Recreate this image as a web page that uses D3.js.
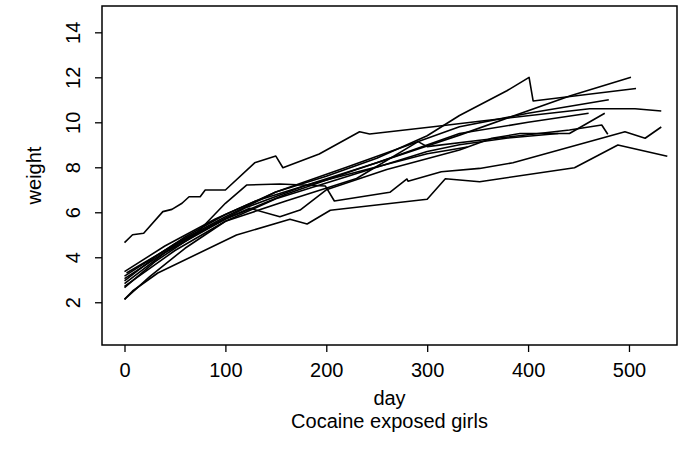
<!DOCTYPE html>
<html>
<head>
<meta charset="utf-8">
<script src="https://cdn.jsdelivr.net/npm/d3@7"></script>
<style>
  body { margin: 0; background: #fff; }
  svg { display: block; font-family: "Liberation Sans", Arial, sans-serif; }
</style>
</head>
<body>
<div id="chart"></div>
<script>
// tick labels
const xTicks = [0, 100, 200, 300, 400, 500];
const yTicks = [2, 4, 6, 8, 10, 12, 14];

// one array of [day, weight] per girl
const girl01 = [[0,4.65],[8,5.0],[19,5.07],[38,6.03],[47,6.13],[57,6.4],[64,6.69],[75,6.69],[80,6.99],[100,6.99],[129,8.2],[150,8.5],[157,7.98],[193,8.59],[233,9.58],[243,9.48],[306,9.8],[352,10.05],[461,10.6],[506,10.6],[532,10.5]];
const girl02 = [[0,2.95],[30,4.0],[60,4.9],[100,5.9],[150,6.9],[200,7.6],[250,8.4],[300,9.4],[332,10.3],[379,11.4],[401,12.0],[405,10.95],[507,11.5]];
const girl03 = [[2,3.3],[40,4.3],[100,5.7],[160,6.8],[230,7.9],[332,9.43],[442,11.18],[502,12.0]];
const girl04 = [[0,3.16],[50,4.6],[100,5.8],[150,6.9],[220,8.0],[332,9.8],[400,10.4],[480,11.0]];
const girl05 = [[0,3.05],[60,4.8],[120,6.2],[180,7.2],[250,8.2],[332,9.5],[400,10.0],[460,10.4]];
const girl06 = [[0,2.83],[40,4.2],[100,5.7],[124,6.18],[154,5.8],[174,6.1],[200,7.0],[260,7.9],[332,8.77],[364,9.29],[392,9.5],[441,9.5],[476,10.4]];
const girl07 = [[0,2.71],[50,4.3],[100,5.6],[160,6.5],[230,7.5],[291,9.14],[300,8.92],[352,9.2],[441,9.66],[473,9.88],[479,9.47]];
const girl08 = [[0,2.65],[30,3.8],[70,5.0],[100,6.4],[121,7.21],[154,7.26],[199,7.17],[208,6.5],[263,6.89],[280,7.48],[281,7.38],[314,7.8],[352,7.95],[385,8.2],[496,9.58],[516,9.29],[532,9.79]];
const girl09 = [[0,2.13],[8,2.5],[33,3.3],[111,4.99],[164,5.69],[181,5.48],[204,6.09],[300,6.58],[318,7.49],[352,7.36],[446,7.98],[489,8.99],[538,8.49]];
const girl10 = [[0,2.13],[25,3.14],[60,4.4],[100,5.6],[150,6.6],[200,7.3],[250,8.0],[300,8.7],[332,9.0],[380,9.3],[430,9.5]];
const girl11 = [[0,3.36],[40,4.5],[90,5.7],[130,6.5],[180,7.2],[240,7.9],[300,8.6],[340,8.9]];

const girls = [girl01, girl02, girl03, girl04, girl05, girl06, girl07, girl08, girl09, girl10, girl11];

const width = 680, height = 464;
const box = { left: 102, right: 677, top: 6, bottom: 345 };
const fontSize = 20;

const svg = d3.select("#chart").append("svg")
  .attr("width", width)
  .attr("height", height);

// scales fitted so that the tick marks land where the reference has them
const x = d3.scaleLinear().domain([-22.3, 547.6]).range([box.left, box.right]);
const y = d3.scaleLinear().domain([0.1, 15.17]).range([box.bottom, box.top]);

const line = d3.line()
  .x(d => x(d[0]))
  .y(d => y(d[1]));

svg.append("g")
  .selectAll("path")
  .data(girls)
  .enter()
  .append("path")
  .attr("d", line)
  .attr("fill", "none")
  .attr("stroke", "#000")
  .attr("stroke-width", 1.6)
  .attr("stroke-linejoin", "round");

// box around plot region
svg.append("rect")
  .attr("x", box.left)
  .attr("y", box.top)
  .attr("width", box.right - box.left)
  .attr("height", box.bottom - box.top)
  .attr("fill", "none")
  .attr("stroke", "#000")
  .attr("stroke-width", 1.5);

// x axis
const xAxis = svg.append("g")
  .attr("transform", `translate(0,${box.bottom})`)
  .call(d3.axisBottom(x).tickValues(xTicks).tickSize(7).tickSizeOuter(0).tickPadding(11));
xAxis.select(".domain").remove();
xAxis.selectAll("line").attr("stroke", "#000").attr("stroke-width", 1.3);
xAxis.selectAll("text")
  .attr("font-size", fontSize)
  .attr("font-family", "Liberation Sans, Arial, sans-serif")
  .attr("fill", "#000");

// y axis with rotated labels, like R's default las = 0
const yAxis = svg.append("g")
  .attr("transform", `translate(${box.left},0)`)
  .call(d3.axisLeft(y).tickValues(yTicks).tickSize(7).tickSizeOuter(0));
yAxis.select(".domain").remove();
yAxis.selectAll("line").attr("stroke", "#000").attr("stroke-width", 1.3);
yAxis.selectAll("text")
  .attr("x", null)
  .attr("dy", null)
  .attr("transform", "translate(-22,0) rotate(-90)")
  .attr("text-anchor", "middle")
  .attr("font-size", fontSize)
  .attr("font-family", "Liberation Sans, Arial, sans-serif")
  .attr("fill", "#000");

// axis titles
const midX = (box.left + box.right) / 2;
svg.append("text")
  .attr("x", midX)
  .attr("y", 405)
  .attr("text-anchor", "middle")
  .attr("font-size", fontSize)
  .text("day");

svg.append("text")
  .attr("x", midX)
  .attr("y", 428)
  .attr("text-anchor", "middle")
  .attr("font-size", fontSize)
  .text("Cocaine exposed girls");

svg.append("text")
  .attr("transform", `translate(41,${(box.top + box.bottom) / 2}) rotate(-90)`)
  .attr("text-anchor", "middle")
  .attr("font-size", fontSize)
  .text("weight");
</script>
</body>
</html>
